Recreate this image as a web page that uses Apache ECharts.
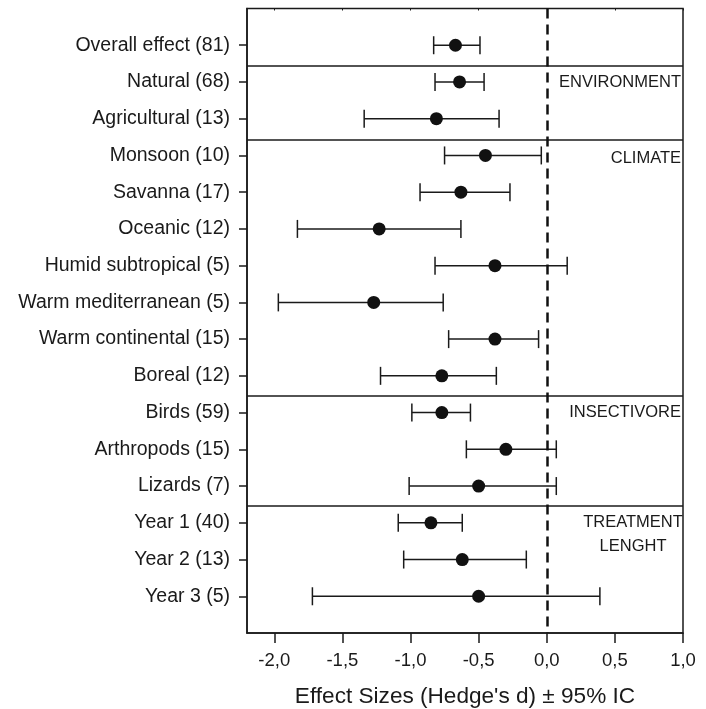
<!DOCTYPE html>
<html>
<head>
<meta charset="utf-8">
<script src="https://cdn.jsdelivr.net/npm/echarts@6/dist/echarts.min.js"></script>
<style>
html, body { margin: 0; padding: 0; background: #fff; }
#chart { width: 706px; height: 709px; }
</style>
</head>
<body>
<div id="chart"></div>
<script>
// forest plot: effect sizes with 95% CI
var categories = [
    'Overall effect (81)', 'Natural (68)', 'Agricultural (13)', 'Monsoon (10)',
    'Savanna (17)', 'Oceanic (12)', 'Humid subtropical (5)', 'Warm mediterranean (5)',
    'Warm continental (15)', 'Boreal (12)', 'Birds (59)', 'Arthropods (15)',
    'Lizards (7)', 'Year 1 (40)', 'Year 2 (13)', 'Year 3 (5)'
];
var effect = [-0.67, -0.64, -0.81, -0.45, -0.63, -1.23, -0.38, -1.27, -0.38, -0.77, -0.77, -0.30, -0.50, -0.85, -0.62, -0.50];
var lower = [-0.83, -0.82, -1.34, -0.75, -0.93, -1.83, -0.82, -1.97, -0.72, -1.22, -0.99, -0.59, -1.01, -1.09, -1.05, -1.72];
var upper = [-0.49, -0.46, -0.35, -0.04, -0.27, -0.63, 0.15, -0.76, -0.06, -0.37, -0.56, 0.07, 0.07, -0.62, -0.15, 0.39];
var xTicks = [-2, -1.5, -1, -0.5, 0, 0.5, 1];
// horizontal lines between groups (in row units)
var groupBreaks = [1.55, 3.58, 10.55, 13.53];
var groupNames = ['ENVIRONMENT', 'CLIMATE', 'INSECTIVORE', 'TREATMENT\nLENGHT'];
var groupRows = [2, 4.08, 11, 14];

var font = "'Liberation Sans', Arial, Helvetica, sans-serif";
var ink = '#1a1a1a';

var rows = categories.map(function(c, i) { return i + 1; });
var barData = rows.map(function(r, i) { return [r, lower[i], upper[i]]; });
var dotData = rows.map(function(r, i) { return [effect[i], r]; });
var groupData = groupRows.map(function(r, i) { return [1.0, r, groupNames[i]]; });

var chart = echarts.init(document.getElementById('chart'));

var option = {
    animation: false,
    backgroundColor: '#fff',
    grid: {
        left: 247, top: 8.5, right: 23, bottom: 76,
        outerBoundsMode: 'none', containLabel: false,
        show: true, borderColor: ink, borderWidth: 1.5
    },
    xAxis: [{
        type: 'value', min: -2.2, max: 1.0, position: 'bottom',
        name: "Effect Sizes (Hedge's d) \u00b1 95% IC",
        nameLocation: 'middle', nameGap: 52,
        nameTextStyle: { fontFamily: font, fontSize: 22.6, color: ink },
        axisLine: { show: true, onZero: false, lineStyle: { color: ink, width: 1.5 } },
        axisTick: { show: true, length: 10, customValues: xTicks, lineStyle: { color: ink, width: 1.5 } },
        axisLabel: {
            customValues: xTicks, margin: 18,
            fontFamily: font, fontSize: 18.5, color: ink,
            formatter: function(v) { return v.toFixed(1).replace('.', ','); }
        },
        splitLine: { show: false }
    }, {
        // faint inside ticks along the top edge
        type: 'value', min: -2.2, max: 1.0, position: 'top',
        axisLine: { show: false, onZero: false },
        axisTick: { show: true, inside: true, length: 2, customValues: xTicks, lineStyle: { color: ink, width: 1 } },
        axisLabel: { show: false },
        splitLine: { show: false }
    }],
    yAxis: {
        type: 'value', min: 0, max: 17, inverse: true,
        axisLine: { show: true, onZero: false, lineStyle: { color: ink, width: 1.5 } },
        axisTick: { show: true, length: 8, customValues: rows, lineStyle: { color: ink, width: 1.5 } },
        axisLabel: {
            customValues: rows, margin: 17,
            fontFamily: font, fontSize: 19.5, color: ink,
            formatter: function(v) { return categories[v - 1] || ''; }
        },
        splitLine: { show: false }
    },
    series: [{
        type: 'custom',
        name: 'ci',
        data: barData,
        encode: { x: [1, 2], y: 0 },
        renderItem: function(params, api) {
            var row = api.value(0);
            var lo = api.coord([api.value(1), row]);
            var hi = api.coord([api.value(2), row]);
            var h = 9;
            var st = { stroke: ink, lineWidth: 1.5 };
            return {
                type: 'group',
                children: [
                    { type: 'line', shape: { x1: lo[0], y1: lo[1], x2: hi[0], y2: hi[1] }, style: st },
                    { type: 'line', shape: { x1: lo[0], y1: lo[1] - h, x2: lo[0], y2: lo[1] + h }, style: st },
                    { type: 'line', shape: { x1: hi[0], y1: hi[1] - h, x2: hi[0], y2: hi[1] + h }, style: st }
                ]
            };
        },
        markLine: {
            silent: true, symbol: 'none', label: { show: false },
            lineStyle: { color: ink, width: 1.5, type: 'solid' },
            data: groupBreaks.map(function(v) { return { yAxis: v }; })
        },
        z: 2
    }, {
        type: 'scatter',
        name: 'effect',
        data: dotData,
        symbol: 'circle',
        symbolSize: 13,
        itemStyle: { color: '#111', opacity: 1 },
        markLine: {
            silent: true, symbol: 'none', label: { show: false },
            lineStyle: { color: '#111', width: 2.5, type: [10, 6] },
            data: [{ xAxis: 0 }]
        },
        z: 3
    }, {
        type: 'custom',
        name: 'groups',
        data: groupData,
        encode: { x: 0, y: 1 },
        renderItem: function(params, api) {
            var p = api.coord([api.value(0), api.value(1)]);
            var txt = groupNames[params.dataIndex];
            var multi = txt.indexOf('\n') >= 0;
            return {
                type: 'text',
                x: multi ? p[0] - 50 : p[0] - 2,
                y: p[1] - 12,
                style: {
                    text: txt,
                    fontFamily: font, fontSize: 16.5, fill: ink,
                    align: multi ? 'center' : 'right',
                    verticalAlign: 'top', lineHeight: 24
                }
            };
        },
        z: 4
    }]
};
chart.setOption(option);
</script>
</body>
</html>
